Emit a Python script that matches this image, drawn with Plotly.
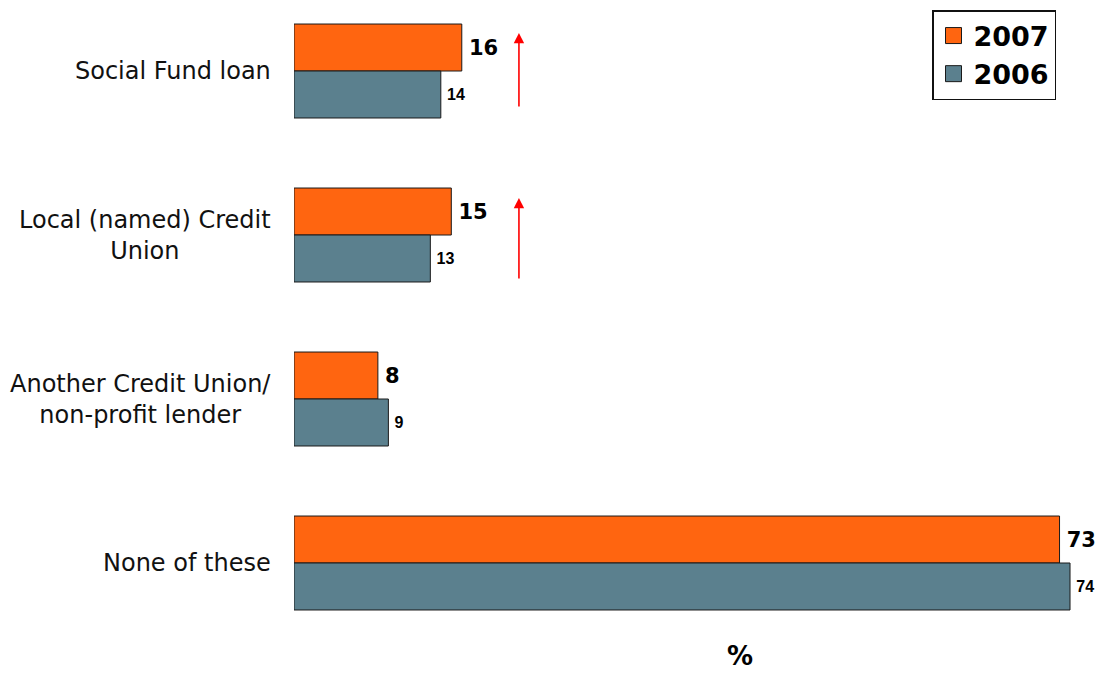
import plotly.graph_objects as go

# Survey responses (%)
categories = [
    "Social Fund loan",
    "Local (named) Credit<br>Union",
    "Another Credit Union/<br>non-profit lender",
    "None of these",
]
values_2007 = [16, 15, 8, 73]
values_2006 = [14, 13, 9, 74]
series_names = ["2007", "2006"]

ORANGE = "#FF6510"
TEAL = "#5B808E"
FONT = "DejaVu Sans"

fig = go.Figure()

fig.add_trace(go.Bar(
    y=categories, x=values_2007, orientation="h", name=series_names[0],
    marker=dict(color=ORANGE, line=dict(color="#1a1a1a", width=1)),
    text=values_2007, texttemplate="\u2009%{x}", textposition="outside",
    textfont=dict(family=FONT, size=21, color="black", weight="bold"),
    cliponaxis=False, showlegend=False,
))
fig.add_trace(go.Bar(
    y=categories, x=values_2006, orientation="h", name=series_names[1],
    marker=dict(color=TEAL, line=dict(color="#1a1a1a", width=1)),
    text=values_2006, texttemplate="\u2009%{x}", textposition="outside",
    textfont=dict(family="Liberation Sans", size=16, color="black", weight="bold"),
    cliponaxis=False, showlegend=False,
))

# legend entries with larger square swatches
for name, col in zip(series_names, [ORANGE, TEAL]):
    fig.add_trace(go.Scatter(
        x=[None], y=[None], mode="markers", name=name,
        marker=dict(symbol="square", size=20, color=col,
                    line=dict(color="#1a1a1a", width=1)),
    ))

annotations = []
# category labels, centred line by line
for i, cat in enumerate(categories):
    annotations.append(dict(
        x=0, xref="paper", y=i, yref="y", text=cat, showarrow=False,
        xanchor="right", xshift=-21, align="center",
        font=dict(family=FONT, size=24, color="#111"),
    ))

# increase arrows
for head, tail in [(-0.232, 0.226), (0.774, 1.274)]:
    annotations.append(dict(
        x=21.45, y=head, ax=21.45, ay=tail, xref="x", yref="y",
        axref="x", ayref="y", text="", showarrow=True,
        arrowhead=2, arrowsize=1.3, arrowwidth=1.6, arrowcolor="#FF0000",
    ))

# axis unit label
annotations.append(dict(
    x=0.5596, y=-0.025, xref="paper", yref="paper",
    text="<b>%</b>", showarrow=False, xanchor="center", yanchor="middle",
    font=dict(family=FONT, size=26, color="black"),
))

fig.update_layout(
    width=1100, height=673,
    margin=dict(l=294, r=9, t=10, b=33, autoexpand=False),
    paper_bgcolor="white", plot_bgcolor="white",
    barmode="group", bargap=0.427, bargroupgap=0,
    xaxis=dict(range=[0, 76], showgrid=False, zeroline=False,
               showticklabels=False, showline=False, ticks=""),
    yaxis=dict(range=[3.4695, -0.372], showgrid=False, zeroline=False,
               showticklabels=False, showline=False, ticks=""),
    legend=dict(
        xref="container", yref="container", x=1056 / 1100, y=1 - 10 / 673,
        xanchor="right", yanchor="top",
        bordercolor="#111", borderwidth=1.5, bgcolor="white",
        font=dict(family=FONT, size=27, color="black", weight="bold"),
        itemsizing="trace", tracegroupgap=0,
    ),
    annotations=annotations,
)

fig.write_html("out.html")
